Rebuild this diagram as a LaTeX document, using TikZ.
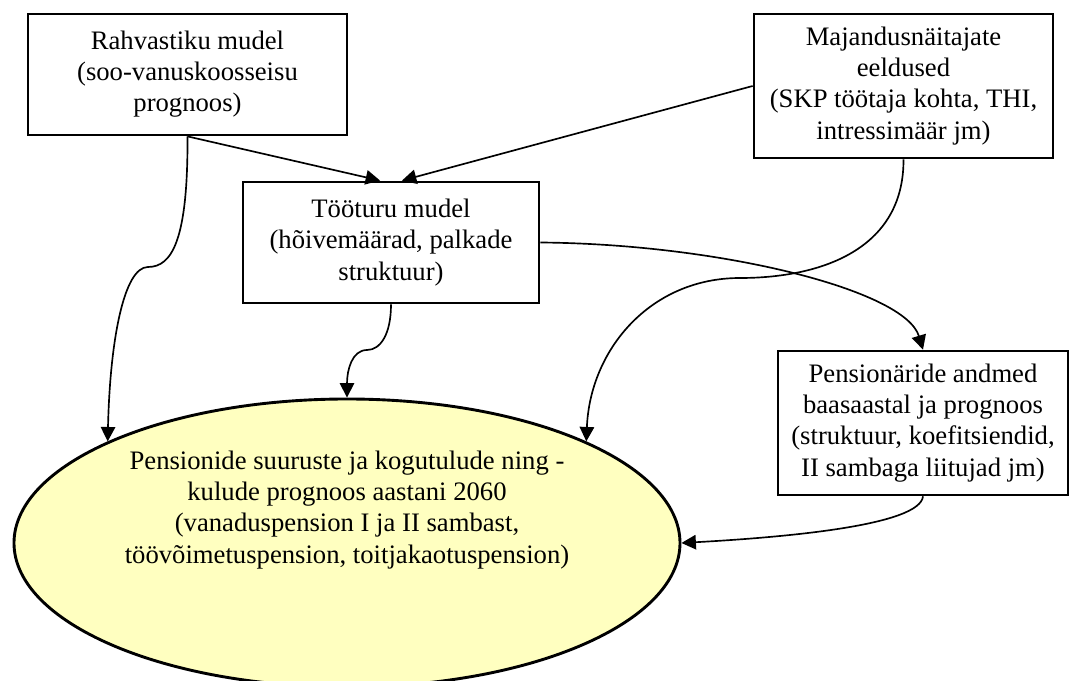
\documentclass[tikz,border=0pt]{standalone}
\usepackage{fontspec}
\setmainfont{Liberation Serif}
\usepackage{xcolor}
\usetikzlibrary{arrows.meta, shapes.geometric}

\definecolor{paleyellow}{RGB}{255,255,192}

\begin{document}
\begin{tikzpicture}[x=0.45pt, y=-0.45pt,
    font=\fontsize{12}{14}\selectfont,
    model/.style={draw, line width=1.2pt, fill=white, align=center, inner sep=2pt},
    link/.style={line width=0.75pt, -{Triangle[length=6.5pt, width=6.5pt]}}]
  \useasboundingbox (0,0) rectangle (1069,681);

  % Projection (result)
  \node[ellipse, draw, line width=1.3pt, fill=paleyellow,
        minimum width=299.7pt, minimum height=129.6pt] (prog) at (347,543) {};
  \node[align=center] (progtext) at (347,510)
    {Pensionide suuruste ja kogutulude ning -\\kulude prognoos aastani 2060\\(vanaduspension I ja II sambast,\\töövõimetuspension, toitjakaotuspension)};

  % Input models
  \node[model, minimum width=143.6pt, minimum height=54.5pt] (rahv) at (187.5,74.5)
    {Rahvastiku mudel\\(soo-vanuskoosseisu\\prognoos)};
  \node[model, minimum width=134.6pt, minimum height=64.8pt] (maj) at (903.5,86)
    {Majandusnäitajate\\eeldused\\(SKP töötaja kohta, THI,\\intressimäär jm)};
  \node[model, minimum width=133.2pt, minimum height=54.5pt] (too) at (391,242.5)
    {Tööturu mudel\\(hõivemäärad, palkade\\struktuur)};
  \node[model, minimum width=130.5pt, minimum height=64.8pt] (pens) at (923,423)
    {Pensionäride andmed\\baasaastal ja prognoos\\(struktuur, koefitsiendid,\\II sambaga liitujad jm)};

  % Into the labour market model
  \draw[link] (rahv.south) -- (too.100);
  \draw[link] (maj.west) -- (too.80);

  % Into the projection
  \draw[link] (rahv.south) .. controls (188,240) and (172,267) .. (148,267)
                           .. controls (124,267) and (110,340) .. (prog.157);
  \draw[link] (too.south) .. controls (391,335) and (380,350) .. (367,350)
                          .. controls (352,350) and (347,370) .. (prog.north);
  \draw[link] (maj.south) .. controls (904,250) and (820,278) .. (740,278)
                          .. controls (650,278) and (590,350) .. (prog.23);
  \draw[link] (pens.south) .. controls (920,525) and (790,537) .. (prog.east);

  % Labour market to pensioners
  \draw[link] (too.east) .. controls (720,244) and (905,290) .. (pens.north);
\end{tikzpicture}
\end{document}
